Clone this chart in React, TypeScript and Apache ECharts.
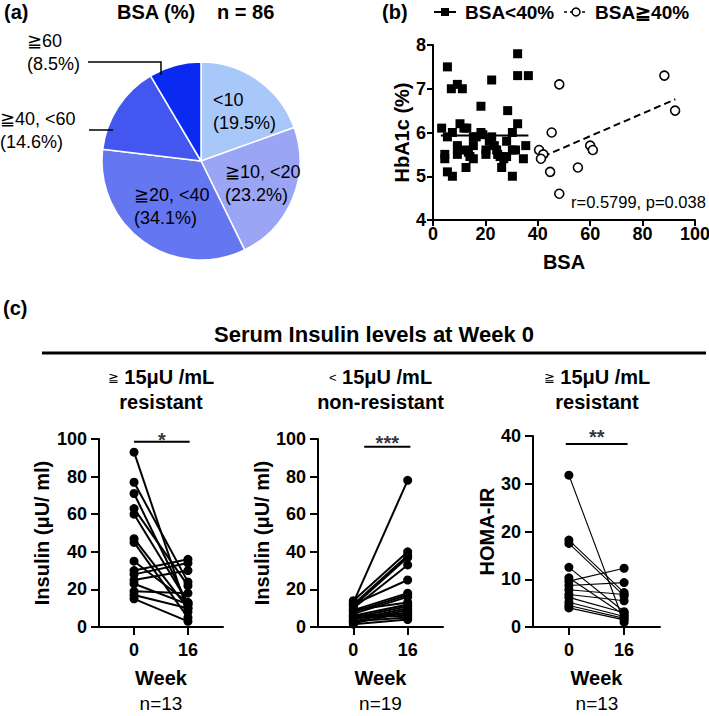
import React, { useEffect, useRef } from "react";
import * as echarts from "echarts";

const FONT = "'Liberation Sans', Arial, Helvetica, sans-serif";

// ---------- Panel (a): pie ----------
const pieCategories = ["<10", "≧10, <20", "≧20, <40", "≧40, <60", "≧60"];
const piePercents = [19.5, 23.2, 34.1, 14.6, 8.5];
const pieColors = ["#a8c8fa", "#9aa6f5", "#6576f1", "#4356ef", "#0b2af1"];

// ---------- Panel (b): scatter BSA vs HbA1c ----------
const bsaLow: number[][] = [
  [3.3, 6.1], [5.5, 7.5], [4.5, 5.5], [4.5, 5.4], [5.5, 5.9], [5.5, 5.1], [7, 7.0], [7.4, 6.0],
  [7.4, 5.0], [9.3, 7.1], [11.2, 7.0], [9.3, 5.7], [9.3, 5.5], [10.3, 6.2], [12.9, 6.1], [11.8, 6.1],
  [12.2, 5.6], [13.5, 5.55], [14.1, 5.45], [12.6, 5.2], [15.4, 5.9], [15.4, 5.7], [15.4, 5.4],
  [16.5, 5.9], [18.3, 6.6], [18.3, 6.0], [19, 5.95], [20.2, 5.6], [20.2, 5.5], [21.5, 5.8],
  [22.4, 7.2], [22.4, 5.9], [23.4, 5.7], [24.3, 5.6], [24.7, 5.5], [25.6, 5.45], [26.2, 5.2],
  [27, 5.4], [28.1, 5.45], [28.1, 5.8], [28.5, 6.5], [30.3, 6.0], [30.3, 5.6], [30.3, 5.0],
  [31.5, 5.6], [32.3, 7.8], [32.3, 7.3], [32.3, 6.2], [36.4, 7.3], [35.4, 5.7], [34.5, 5.4]
];
const bsaHigh: number[][] = [
  [40.5, 5.6], [42.1, 5.5], [41.2, 5.4], [44.7, 5.1], [45.3, 6.0], [48.2, 7.1], [48.2, 4.6],
  [55.3, 5.2], [60, 5.7], [61, 5.6], [88.3, 7.3], [92.4, 6.5]
];
const fitLow: number[][] = [[3, 5.93], [36.4, 5.93]];
const fitHigh: number[][] = [[42, 5.45], [92.5, 6.76]];
const corrText = "r=0.5799, p=0.038";

// ---------- Panel (c): paired plots ----------
const weeks = [0, 16];
const resInsW0 = [93, 77, 71, 63, 60, 47, 45, 35, 30, 28, 25, 23, 19, 17, 15];
const resInsW16 = [8, 24, 12, 22, 13, 10, 5, 13, 36, 34, 30, 12, 18, 10, 3];
const nonInsW0 = [13, 14, 12, 11, 10, 12, 9, 8, 7, 6, 5, 9, 4, 3, 2, 6, 5, 3, 1.5];
const nonInsW16 = [78, 40, 38, 37, 33, 25, 18, 17, 16, 12, 11, 13, 10, 9, 8, 7, 6, 5, 4];
const homaW0 = [31.8, 18.2, 17.5, 12.5, 10.3, 9.6, 8.7, 7.8, 6.8, 6.2, 5.2, 4.5, 4.0];
const homaW16 = [1.0, 7.2, 6.5, 3.2, 2.5, 12.3, 9.3, 6.8, 5.5, 3.0, 2.2, 1.8, 1.5];

const sigLabels = ["*", "***", "**"];
const sigY = [98.6, 95.9, 38.3];
const sigX = [[0, 16.5], [3.2, 16.8], [-0.9, 17]];

const panelHeaders1 = ["≧", "<", "≧"];
const panelHeaders2 = ["15μU /mL", "15μU /mL", "15μU /mL"];
const panelHeaders3 = ["resistant", "non-resistant", "resistant"];
const panelN = ["n=13", "n=19", "n=13"];
const panelYNames = ["Insulin (μU/ ml)", "Insulin (μU/ ml)", "HOMA-IR"];

const BLACK = "#000";
const axisLine = { show: true, onZero: false, lineStyle: { color: BLACK, width: 2 } };
const tickStyle = (len: number) => ({ show: true, inside: false, length: len, lineStyle: { color: BLACK, width: 2 } });
const labelStyle = (margin: number) => ({ color: BLACK, fontSize: 18, fontWeight: "bold", fontFamily: FONT, margin });
const nameStyle = { color: BLACK, fontSize: 20, fontWeight: "bold", fontFamily: FONT };

function txt(text: string, x: number, y: number, size: number, bold: boolean, align = "left", extra: any = {}) {
  return {
    type: "text",
    x,
    y,
    z: 100,
    style: {
      text,
      fill: BLACK,
      fontSize: size,
      fontWeight: bold ? "bold" : "normal",
      fontFamily: FONT,
      align,
      verticalAlign: "middle",
      textAlign: align,
      textVerticalAlign: "middle",
      ...extra,
    },
  };
}

function buildOption() {
  const grids = [
    { left: 433, top: 45, width: 262, height: 175, outerBoundsMode: "none" },
    { left: 99, top: 439, width: 124, height: 188, outerBoundsMode: "none" },
    { left: 318, top: 439, width: 125, height: 188, outerBoundsMode: "none" },
    { left: 533, top: 436, width: 127, height: 191, outerBoundsMode: "none" },
  ];

  const xAxes: any[] = [
    {
      gridIndex: 0, type: "value", min: 0, max: 100, interval: 20,
      axisLine, axisTick: tickStyle(6), axisLabel: labelStyle(5), splitLine: { show: false },
      name: "BSA", nameLocation: "middle", nameGap: 32, nameTextStyle: nameStyle,
    },
  ];
  const yAxes: any[] = [
    {
      gridIndex: 0, type: "value", min: 4, max: 8, interval: 1,
      axisLine, axisTick: tickStyle(6), axisLabel: labelStyle(7), splitLine: { show: false },
      name: "HbA1c (%)", nameLocation: "middle", nameGap: 20, nameTextStyle: nameStyle,
    },
  ];
  const yMax = [100, 100, 40];
  const yInt = [20, 20, 10];
  const yGap = [47, 45, 36];
  for (let i = 0; i < 3; i++) {
    xAxes.push({
      gridIndex: i + 1, type: "value", min: -10.4, max: 26.4,
      axisLine,
      axisTick: { ...tickStyle(8), customValues: weeks },
      axisLabel: { ...labelStyle(14), customValues: weeks },
      splitLine: { show: false },
      name: "Week", nameLocation: "middle", nameGap: 41, nameTextStyle: nameStyle,
    });
    yAxes.push({
      gridIndex: i + 1, type: "value", min: 0, max: yMax[i], interval: yInt[i],
      axisLine, axisTick: tickStyle(8), axisLabel: labelStyle(12), splitLine: { show: false },
      name: panelYNames[i], nameLocation: "middle", nameGap: yGap[i], nameTextStyle: nameStyle,
    });
  }

  const series: any[] = [
    {
      type: "pie",
      center: [201, 161],
      radius: 99,
      startAngle: 90,
      clockwise: true,
      label: { show: false },
      labelLine: { show: false },
      itemStyle: { borderColor: "#fff", borderWidth: 1.5 },
      data: pieCategories.map((c, i) => ({ name: c, value: piePercents[i], itemStyle: { color: pieColors[i] } })),
    },
    {
      type: "line", xAxisIndex: 0, yAxisIndex: 0, data: fitLow, symbol: "none",
      lineStyle: { color: BLACK, width: 2 }, z: 2,
    },
    {
      type: "line", xAxisIndex: 0, yAxisIndex: 0, data: fitHigh, symbol: "none",
      lineStyle: { color: BLACK, width: 2, type: [7, 4] }, z: 2,
    },
    {
      type: "scatter", xAxisIndex: 0, yAxisIndex: 0, data: bsaLow, symbol: "rect", symbolSize: 9,
      itemStyle: { color: BLACK, opacity: 1 }, z: 3,
    },
    {
      type: "scatter", xAxisIndex: 0, yAxisIndex: 0, data: bsaHigh, symbol: "circle", symbolSize: 9,
      itemStyle: { color: "#fff", borderColor: BLACK, borderWidth: 1.6, opacity: 1 }, z: 3,
    },
  ];

  const pairs = [
    [resInsW0, resInsW16],
    [nonInsW0, nonInsW16],
    [homaW0, homaW16],
  ];
  const lineW = [2, 2, 1.1];
  const sigOffset = [-2, -3.5, -7];
  pairs.forEach(([w0, w16], i) => {
    const ax = i + 1;
    series.push({
      type: "lines", coordinateSystem: "cartesian2d", xAxisIndex: ax, yAxisIndex: ax,
      polyline: false,
      lineStyle: { color: BLACK, width: lineW[i], opacity: 1, curveness: 0 },
      data: w0.map((v, k) => ({ coords: [[weeks[0], v], [weeks[1], w16[k]]] })),
      z: 2,
    });
    series.push({
      type: "scatter", xAxisIndex: ax, yAxisIndex: ax, symbol: "circle", symbolSize: 9,
      itemStyle: { color: BLACK, opacity: 1 },
      data: [...w0.map((v) => [weeks[0], v]), ...w16.map((v) => [weeks[1], v])],
      z: 3,
    });
    series.push({
      type: "line", xAxisIndex: ax, yAxisIndex: ax, symbol: "none",
      lineStyle: { color: BLACK, width: 2 },
      data: [[sigX[i][0], sigY[i]], [sigX[i][1], sigY[i]]],
      z: 2,
    });
    series.push({
      type: "scatter", xAxisIndex: ax, yAxisIndex: ax, symbolSize: 0,
      data: [[(sigX[i][0] + sigX[i][1]) / 2, sigY[i]]],
      label: {
        show: true, position: "inside", offset: [0, sigOffset[i]], formatter: sigLabels[i],
        color: BLACK, fontSize: 20, fontWeight: "bold", fontFamily: FONT,
      },
      z: 4,
    });
  });

  // ---------- graphic texts ----------
  const pieLabel = (i: number) => `${pieCategories[i]}\n(${piePercents[i]}%)`;
  const pieLabelPos = [
    [213, 111],
    [225, 183],
    [134, 206],
    [0, 130],
    [27, 52],
  ];
  const headerX = [161, 380.5, 597];

  const g: any[] = [
    txt("(a)", 4, 12, 20, true),
    txt("BSA (%)", 117, 12, 20, true),
    txt("n = 86", 217, 12, 20, true),
    ...pieLabelPos.map((p, i) => txt(pieLabel(i), p[0], p[1], 18, false, "left", { lineHeight: 23 })),
    {
      type: "polyline", z: 100,
      shape: { points: [[88, 62], [161, 62], [161, 75]] },
      style: { stroke: BLACK, lineWidth: 1.5, fill: null },
    },
    {
      type: "line", z: 100,
      shape: { x1: 89, y1: 130, x2: 113, y2: 130 },
      style: { stroke: BLACK, lineWidth: 1.5 },
    },
    txt("(b)", 382, 12, 20, true),
    { type: "line", z: 100, shape: { x1: 434, y1: 12, x2: 456, y2: 12 }, style: { stroke: BLACK, lineWidth: 2 } },
    { type: "rect", z: 100, shape: { x: 441, y: 8, width: 8, height: 8 }, style: { fill: BLACK } },
    txt("BSA<40%", 465, 12, 19, true),
    { type: "line", z: 100, shape: { x1: 564, y1: 12, x2: 588, y2: 12 }, style: { stroke: BLACK, lineWidth: 1.5, lineDash: [3, 3] } },
    { type: "circle", z: 101, shape: { cx: 576, cy: 12, r: 4 }, style: { fill: "#fff", stroke: BLACK, lineWidth: 1.5 } },
    txt("BSA≧40%", 595, 12, 19, true),
    txt(corrText, 571, 202, 16.5, false),
    txt("(c)", 3, 308, 20, true),
    txt("Serum Insulin levels at Week 0", 374, 334, 22, true, "center"),
    { type: "line", z: 100, shape: { x1: 42, y1: 353, x2: 706, y2: 353 }, style: { stroke: BLACK, lineWidth: 3 } },
  ];
  headerX.forEach((x, i) => {
    g.push({
      type: "text",
      x,
      y: 377,
      z: 100,
      style: {
        text: `{s|${panelHeaders1[i]}} ${panelHeaders2[i]}`,
        fill: BLACK,
        fontSize: 20,
        fontWeight: "bold",
        fontFamily: FONT,
        align: "center",
        verticalAlign: "middle",
        textAlign: "center",
        textVerticalAlign: "middle",
        rich: { s: { fontSize: 13, fontWeight: "normal", fontFamily: FONT, fill: BLACK } },
      },
    });
    g.push(txt(panelHeaders3[i], x, 402, 20, true, "center"));
    g.push(txt(panelN[i], x, 703, 19, false, "center"));
  });

  return {
    animation: false,
    backgroundColor: "#fff",
    textStyle: { fontFamily: FONT },
    grid: grids,
    xAxis: xAxes,
    yAxis: yAxes,
    series,
    graphic: g,
  };
}

export default function App() {
  const ref = useRef<HTMLDivElement>(null);
  useEffect(() => {
    if (!ref.current) return;
    const chart = echarts.init(ref.current, undefined, { renderer: "svg" });
    chart.setOption(buildOption() as any);
    return () => chart.dispose();
  }, []);
  return (
    <div
      ref={ref}
      style={{ position: "fixed", left: 0, top: 0, width: 709, height: 716, background: "#fff" }}
    />
  );
}
